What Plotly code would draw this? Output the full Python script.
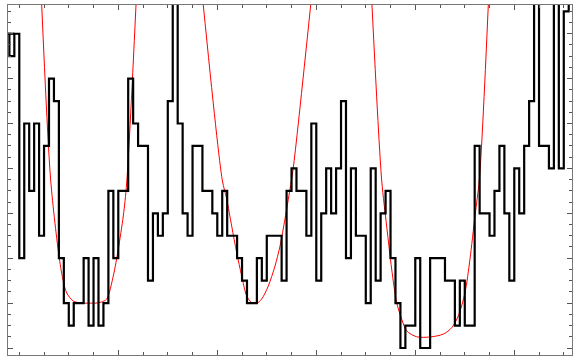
import plotly.graph_objects as go

# Step series: one value per unit-wide bin, bins start at x = -3
bin_start = -3
counts = [14, 13, 14,
          4, 10, 7, 10, 5, 9, 12, 11, 4, 2,
          1, 2, 2, 4, 1, 4, 1, 2, 7, 4,
          7, 7, 12, 10, 9, 9, 3, 6, 5, 6,
          11, 17, 10, 6, 5, 9, 9, 7, 7, 6,
          5, 7, 5, 5, 4, 3, 2, 2, 4, 3,
          5, 5, 5, 3, 7, 8, 7, 7, 5, 10,
          3, 6, 8, 6, 8, 11, 4, 8, 5, 5,
          2, 8, 3, 6, 7, 4, 2, 0, 1, 1,
          4, 0, 0, 4, 4, 4, 3, 3, 1, 3,
          1, 1, 9, 6, 6, 5, 7, 9, 6, 3,
          8, 6, 9, 11, 17, 9, 9, 8, 17, 8,
          15, 17]

# Red fitted curves
arc1_x = [4.53, 6.34, 8.08, 8.89, 9.58, 10.91, 12.5, 14.0, 15.5, 16.6, 17.66, 18.99, 20.0, 21.01, 21.7, 23.58]
arc1_y = [15.28, 7.48, 4.0, 2.98, 2.45, 2.09, 2.0, 2.0, 2.0, 2.05, 2.18, 3.21, 4.41, 5.88, 7.35, 15.28]
arc2_x = [37.17, 41.01, 41.9, 42.91, 43.92, 44.93, 45.94, 46.95, 47.96, 48.97, 50.3, 51.66, 52.67, 53.68, 54.69, 55.35, 58.87]
arc2_y = [15.28, 7.48, 6.64, 5.43, 4.25, 3.21, 2.32, 2.02, 1.99, 2.18, 2.76, 3.65, 4.54, 5.75, 7.08, 8.02, 15.28]
arc3_x = [71.25, 73.21, 74.22, 75.23, 76.24, 77.25, 78.26, 80.28, 82.97, 85.66, 87.35, 88.69, 90.04, 91.05, 92.06, 92.97, 94.75]
arc3_y = [15.28, 7.48, 5.43, 3.52, 2.02, 1.29, 0.76, 0.50, 0.49, 0.62, 0.90, 1.43, 2.46, 3.96, 5.88, 7.57, 15.28]

x_range = [-2.28, 111.66]
y_range = [-0.312, 15.28]
x_major = [20, 40, 60, 80, 100]
x_minor = [v for v in range(0, 115, 5) if v not in x_major]
y_major = list(range(0, 16, 2))
y_minor = [v / 2 for v in range(-0, 31) if (v / 2) not in y_major]

edges = [bin_start + i for i in range(len(counts) + 1)]
step_y = counts + [counts[-1]]

fig = go.Figure()
for ax, ay in [(arc1_x, arc1_y), (arc2_x, arc2_y), (arc3_x, arc3_y)]:
    fig.add_trace(go.Scatter(x=ax, y=ay, mode="lines",
                             line=dict(color="#ff0000", width=1, shape="spline", smoothing=0.8),
                             hoverinfo="skip", showlegend=False))

fig.add_trace(go.Scatter(x=edges, y=step_y, mode="lines",
                         line=dict(color="black", width=2.2, shape="hv"),
                         showlegend=False))
# top cap over the first notch
fig.add_trace(go.Scatter(x=[x_range[0], edges[2]], y=[counts[0], counts[0]], mode="lines",
                         line=dict(color="black", width=2.2), showlegend=False))

axis_common = dict(showgrid=False, zeroline=False, showticklabels=False,
                   showline=True, linecolor="#777777", linewidth=1, mirror="ticks",
                   ticks="inside", ticklen=5, tickwidth=1, tickcolor="#555555")

fig.update_xaxes(range=x_range, tickmode="array", tickvals=x_major,
                 minor=dict(tickmode="array", tickvals=x_minor, ticks="inside", ticklen=3,
                            tickwidth=1, tickcolor="#555555"),
                 **axis_common)
fig.update_yaxes(range=y_range, tickmode="array", tickvals=y_major,
                 minor=dict(tickmode="array", tickvals=y_minor, ticks="inside", ticklen=3,
                            tickwidth=1, tickcolor="#555555"),
                 **axis_common)

fig.update_layout(width=573, height=356, margin=dict(l=8, r=1, t=5, b=1),
                  paper_bgcolor="white", plot_bgcolor="white")

fig.write_html("out.html")
